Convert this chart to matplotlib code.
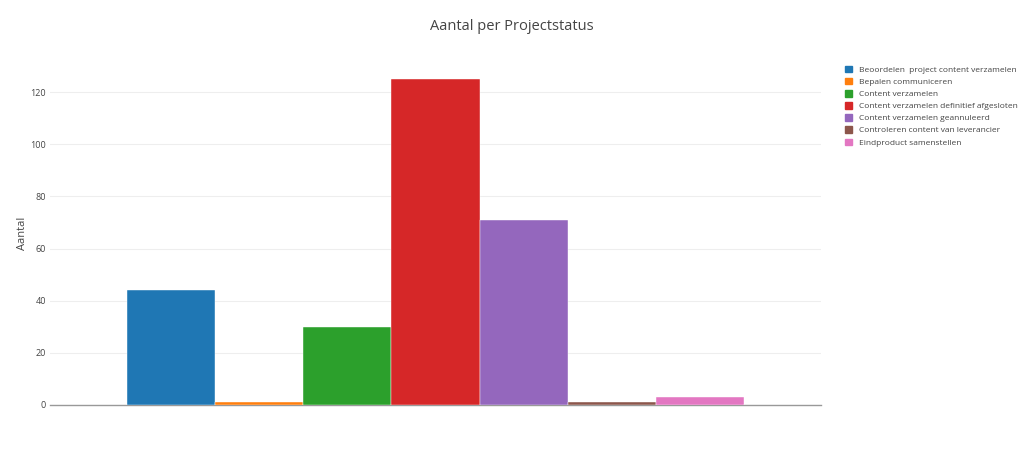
import matplotlib
matplotlib.use("Agg")
import matplotlib.pyplot as plt
import numpy as np
from matplotlib.patches import Patch

statuses = [
    "Beoordelen  project content verzamelen",
    "Bepalen communiceren",
    "Content verzamelen",
    "Content verzamelen definitief afgesloten",
    "Content verzamelen geannuleerd",
    "Controleren content van leverancier",
    "Eindproduct samenstellen",
]
counts = [44, 1, 30, 125, 71, 1, 3]
colors = ["#1f77b4", "#ff7f0e", "#2ca02c", "#d62728", "#9467bd", "#8c564b", "#e377c2"]
yticks = [0, 20, 40, 60, 80, 100, 120]

plt.rcParams['font.family'] = ['Open Sans', 'DejaVu Sans']
fig = plt.figure(figsize=(10.24, 4.55), dpi=100)
ax = fig.add_axes([50/1024, 1-405/455, (821-50)/1024, (405-62)/455])

n = len(counts)
group = 0.8
w = group / n
for i, (s, c, col) in enumerate(zip(statuses, counts, colors)):
    x = -group/2 + w*(i+0.5)
    ax.bar(x, c, width=w, color=col, label=s, edgecolor="white", linewidth=0.3, zorder=3)

ax.set_xlim(-0.5, 0.5)
ax.set_ylim(0, 125*1.0526)
ax.set_yticks(yticks)
ax.set_yticklabels([str(v) for v in yticks], color="#444444", fontsize=6.5)
ax.tick_params(axis='y', length=0, pad=3)
ax.set_xticks([])
ax.grid(axis='y', color="#eeeeee", linewidth=0.8, zorder=0)
for sp in ["top", "right", "left"]:
    ax.spines[sp].set_visible(False)
ax.spines["bottom"].set_color("#999999")
ax.spines["bottom"].set_linewidth(1)
ax.set_ylabel("Aantal", color="#444444", fontsize=8)
ax.yaxis.set_label_coords((28-50)/771, 0.5)

fig.text(512/1024, 1-27/455, "Aantal per Projectstatus", ha="center", va="center",
         color="#444444", fontsize=10.5)

handles = [Patch(facecolor=c, edgecolor=c) for c in colors]
leg = fig.legend(handles, statuses, loc="upper left", bbox_to_anchor=(845/1024, 1-66/455),
                 frameon=False, fontsize=6.0, handlelength=0.8, handleheight=0.8,
                 handletextpad=0.9, labelspacing=0.48, borderaxespad=0, borderpad=0)
for t in leg.get_texts():
    t.set_color("#444444")

fig.savefig("out.png", dpi=100, facecolor="white")
